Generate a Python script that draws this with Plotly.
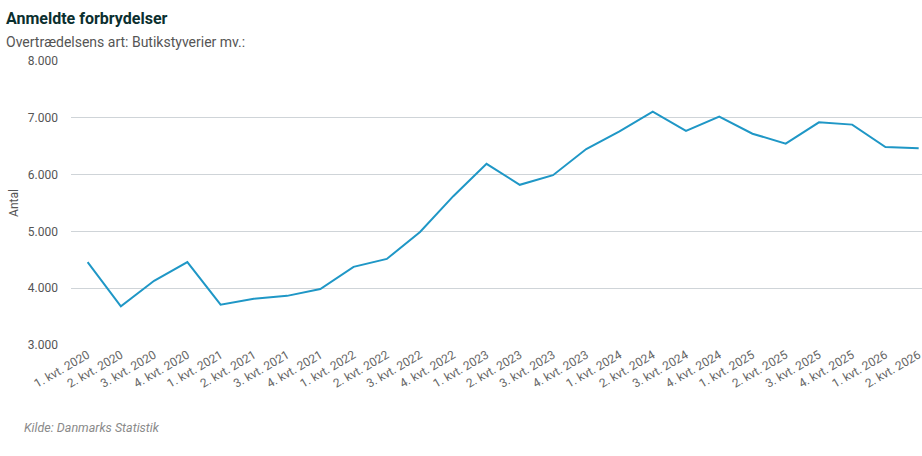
import plotly.graph_objects as go

# kvartaler
quarters = [f"{q}. kvt. {y}" for y in range(2020, 2027) for q in range(1, 5)][:26]

# anmeldte butikstyverier mv.
antal = [4460, 3680, 4130, 4460, 3710, 3815, 3865, 3985, 4375, 4515,
         4990, 5620, 6190, 5820, 5990, 6450, 6760, 7110, 6770, 7020,
         6720, 6545, 6920, 6880, 6485, 6465]

y_ticks = [3000, 4000, 5000, 6000, 7000, 8000]
y_labels = ["3.000", "4.000", "5.000", "6.000", "7.000", "8.000"]

fig = go.Figure()
fig.add_trace(go.Scatter(x=quarters, y=antal, mode="lines",
                         line=dict(color="#1f97c6", width=2),
                         hoverinfo="x+y"))

fig.update_layout(
    width=922, height=456,
    margin=dict(l=71, r=0, t=61, b=111),
    paper_bgcolor="white", plot_bgcolor="white",
    font=dict(family="Roboto, sans-serif", color="#555555"),
    showlegend=False,
)

fig.add_annotation(text="<b>Anmeldte forbrydelser</b>", xref="paper", yref="paper",
                   x=0, y=1, xshift=-67, yshift=43, xanchor="left", yanchor="middle",
                   showarrow=False, font=dict(size=16, color="#0b2f2f"))
fig.add_annotation(text="Overtrædelsens art: Butikstyverier mv.:", xref="paper", yref="paper",
                   x=0, y=1, xshift=-67, yshift=19, xanchor="left", yanchor="middle",
                   showarrow=False, font=dict(size=14, color="#555555"))
fig.add_annotation(text="<i>Kilde: Danmarks Statistik</i>", xref="paper", yref="paper",
                   x=0, y=0, xshift=-49, yshift=-82, xanchor="left", yanchor="middle",
                   showarrow=False, font=dict(size=12.5, color="#8a8a8a"))

fig.update_xaxes(type="category", range=[-0.5, 25.1], tickangle=-30,
                 showgrid=False, showline=False, ticks="",
                 tickfont=dict(size=12, color="#666666"))
fig.update_yaxes(range=[3000, 8000], tickvals=y_ticks, ticktext=y_labels,
                 showgrid=True, gridcolor="#cfd4d8", gridwidth=1,
                 zeroline=False, showline=False, ticks="", ticklabelstandoff=12,
                 tickfont=dict(size=12, color="#555555"),
                 title=dict(text="Antal", font=dict(size=12, color="#555555"), standoff=6))

# drop the default page margin so the figure fills the window
fig.write_html("out.html", config={"displayModeBar": False},
               post_script="document.body.style.margin='0';")
